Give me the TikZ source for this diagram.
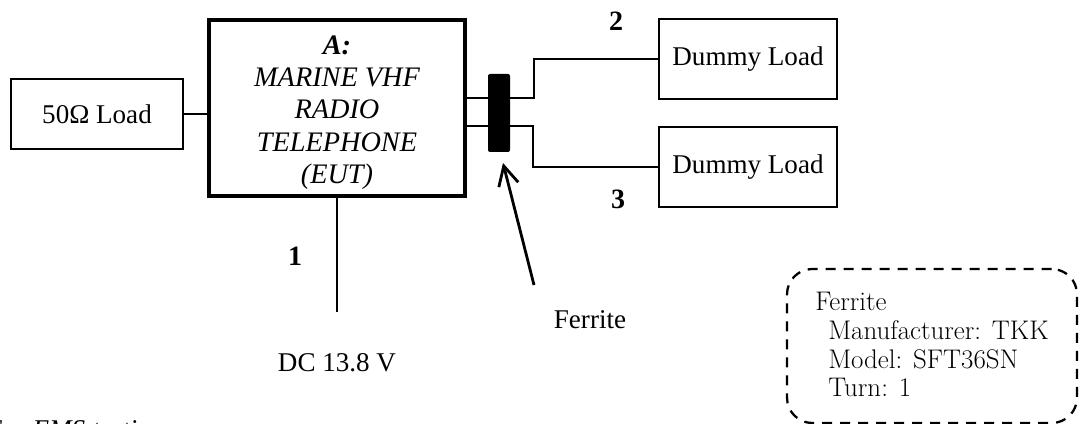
\documentclass[tikz,border=0pt]{standalone}
\usepackage{fontspec}
\setmainfont{Liberation Serif}
\newfontfamily\lmfont{Latin Modern Roman}
\usetikzlibrary{arrows.meta}
\begin{document}
\begin{tikzpicture}[x=0.75pt,y=-0.75pt,
  box/.style={draw, line width=1.4pt, inner sep=0pt, font=\fontsize{20.3}{24}\selectfont},
  wire/.style={line width=2.1pt},
  num/.style={font=\fontsize{21}{24}\selectfont\bfseries, inner sep=0pt},
  lbl/.style={font=\fontsize{20.3}{24}\selectfont, inner sep=0pt},
  note/.style={font=\lmfont\fontsize{20.2}{22}\selectfont, inner sep=0pt, anchor=base west}]
\useasboundingbox (0,0) rectangle (1082,424);
% boxes
\node[box, minimum width=129pt, minimum height=52.5pt] (load) at (97,114) {50Ω Load};
\node[draw, line width=3pt, inner sep=0pt, minimum width=192pt, minimum height=132pt] (eut) at (337,108.5) {};
\node[font=\fontsize{21.2}{24.2}\selectfont\itshape, align=center, inner sep=0pt] (eutlbl) at (337,112.5)
  {\textbf{A:}\\MARINE VHF\\RADIO\\TELEPHONE\\(EUT)};
\node[box, minimum width=133.5pt, minimum height=60pt] (d1) at (748,59) {Dummy Load};
\node[box, minimum width=133.5pt, minimum height=60pt] (d2) at (748,167) {Dummy Load};
% wires
\draw[wire] (load.east) -- (load.east -| eut.west);
\coordinate (b2) at (534,98);
\coordinate (b3) at (533,126);
\draw[wire] (eut.east |- b2) -- (b2) |- (d1.west);
\draw[wire] (eut.east |- b3) -- (b3) |- (d2.west);
\node[fill=black, rounded corners=1.5pt, minimum width=16.5pt, minimum height=58.5pt, inner sep=0pt] (fer) at (499,113) {};
\coordinate (dcend) at (336,312);
\draw[wire] (eut.south) -- (eut.south |- dcend);
\coordinate (atail) at (534,285);
\coordinate (atip) at (503,163);
\draw[wire, -{Straight Barb[length=14.5pt,width=15pt]}] (atail) -- (atip);
% labels
\node[num] (lab1) at (295,256) {1};
\node[num] (lab2) at (616,21) {2};
\node[num] (lab3) at (618,199) {3};
\node[lbl] (dc) at (337,363) {DC 13.8 V};
\node[lbl] (ferlbl) at (590,320) {Ferrite};
% note box
\node[draw, dash pattern=on 7.5pt off 6pt, line width=1.7pt, rounded corners=19pt, minimum width=217.5pt, minimum height=115.5pt, inner sep=0pt] (notebox) at (932,346) {};
\node[note] (nt1) at (815,310) {Ferrite};
\node[note] (nt2) at (828,339) {Manufacturer: TKK};
\node[note] (nt3) at (828,368) {Model: SFT36SN};
\node[note] (nt4) at (828,396) {Turn: 1};
% caption fragment
\node[font=\fontsize{20.3}{24}\selectfont\itshape, inner sep=0pt, anchor=base west] (ems) at (-15,438) {For EMS testing};
\end{tikzpicture}
\end{document}
